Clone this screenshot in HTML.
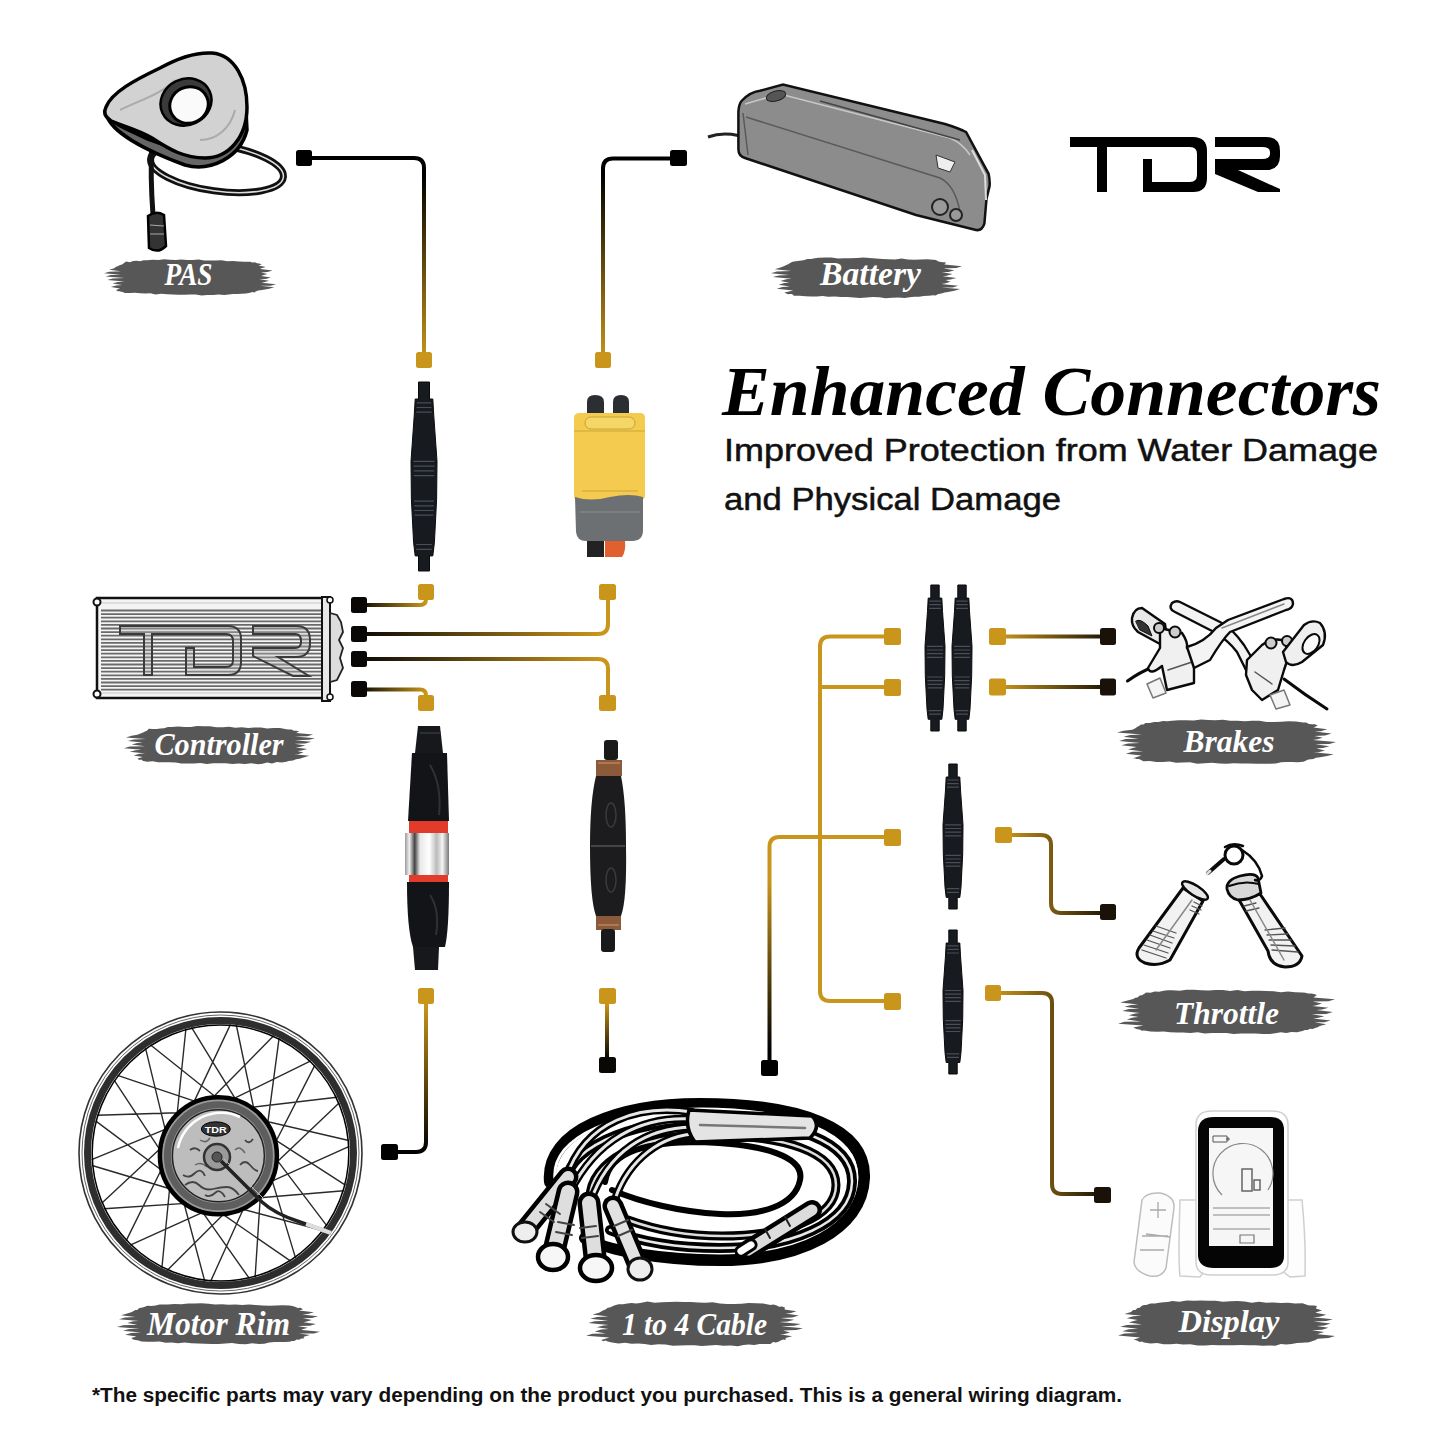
<!DOCTYPE html>
<html><head><meta charset="utf-8"><style>
html,body{margin:0;padding:0;background:#fff;width:1445px;height:1445px;overflow:hidden}
svg{display:block}
</style></head><body>
<svg width="1445" height="1445" viewBox="0 0 1445 1445">
<defs><linearGradient id="g1" gradientUnits="userSpaceOnUse" x1="0" y1="175" x2="0" y2="360"><stop offset="0" stop-color="#000"/><stop offset="1" stop-color="#C9961B"/></linearGradient><linearGradient id="g2" gradientUnits="userSpaceOnUse" x1="0" y1="175" x2="0" y2="360"><stop offset="0" stop-color="#000"/><stop offset="1" stop-color="#C9961B"/></linearGradient><linearGradient id="g3" gradientUnits="userSpaceOnUse" x1="360" y1="0" x2="426" y2="0"><stop offset="0" stop-color="#0a0806"/><stop offset="1" stop-color="#C9961B"/></linearGradient><linearGradient id="g4" gradientUnits="userSpaceOnUse" x1="360" y1="0" x2="600" y2="0"><stop offset="0" stop-color="#0a0806"/><stop offset="1" stop-color="#C9961B"/></linearGradient><linearGradient id="g5" gradientUnits="userSpaceOnUse" x1="360" y1="0" x2="600" y2="0"><stop offset="0" stop-color="#0a0806"/><stop offset="1" stop-color="#C9961B"/></linearGradient><linearGradient id="g6" gradientUnits="userSpaceOnUse" x1="360" y1="0" x2="426" y2="0"><stop offset="0" stop-color="#0a0806"/><stop offset="1" stop-color="#C9961B"/></linearGradient><linearGradient id="g7" gradientUnits="userSpaceOnUse" x1="0" y1="1004" x2="0" y2="1152"><stop offset="0" stop-color="#C9961B"/><stop offset="1" stop-color="#000"/></linearGradient><linearGradient id="g8" gradientUnits="userSpaceOnUse" x1="0" y1="1004" x2="0" y2="1060"><stop offset="0" stop-color="#C9961B"/><stop offset="1" stop-color="#000"/></linearGradient><linearGradient id="g9" gradientUnits="userSpaceOnUse" x1="0" y1="880" x2="0" y2="1050"><stop offset="0" stop-color="#C9961B"/><stop offset="1" stop-color="#000"/></linearGradient><linearGradient id="g10" gradientUnits="userSpaceOnUse" x1="1000" y1="0" x2="1108" y2="0"><stop offset="0" stop-color="#C9961B"/><stop offset="1" stop-color="#1a1208"/></linearGradient><linearGradient id="g11" gradientUnits="userSpaceOnUse" x1="1000" y1="0" x2="1108" y2="0"><stop offset="0" stop-color="#C9961B"/><stop offset="1" stop-color="#1a1208"/></linearGradient><linearGradient id="g12" gradientUnits="userSpaceOnUse" x1="1005" y1="0" x2="1108" y2="0"><stop offset="0" stop-color="#C9961B"/><stop offset="1" stop-color="#1a1208"/></linearGradient><linearGradient id="g13" gradientUnits="userSpaceOnUse" x1="995" y1="0" x2="1102" y2="0"><stop offset="0" stop-color="#C9961B"/><stop offset="1" stop-color="#1a1208"/></linearGradient></defs>
<rect width="1445" height="1445" fill="#fff"/>
<g id="battery">
<path d="M708,137 Q722,132 738,135.5" fill="none" stroke="#222" stroke-width="3"/>
<path d="M741.5,101 Q750,92 760,90.8 L783,84.5 L945,124 Q958,128 966,132 L988.6,173.8 Q990,180 989.6,186 L986.5,198.7 L984.4,223.6 Q982,231 976,230 L916,215 L745,158 Q738.4,156 738.4,149 L738.4,111.5 Q739,104 741.5,101 Z" fill="#8c8c8c" stroke="#111" stroke-width="2.5"/>
<path d="M745,104 L780,94 L950,138 Q962,143 970,155" fill="none" stroke="#c8c8c8" stroke-width="1.5"/>
<path d="M743,113 L748,155 M746,117 L940,178 Q955,185 960,212" fill="none" stroke="#5a5a5a" stroke-width="1.5"/>
<path d="M820,101 L960,140" fill="none" stroke="#444" stroke-width="1.5"/>
<ellipse cx="776" cy="96" rx="10" ry="5" transform="rotate(-15 776 96)" fill="#555" stroke="#222" stroke-width="1"/>
<path d="M936,155 L955,162 L950,172 L938,168 Z" fill="#eee" stroke="#333" stroke-width="1"/>
<circle cx="940" cy="207" r="8" fill="#999" stroke="#222" stroke-width="2"/>
<circle cx="956" cy="215" r="6" fill="#999" stroke="#222" stroke-width="2"/>
<path d="M972,150 L985,175 L986,200" fill="none" stroke="#ddd" stroke-width="2"/>
</g>

<g id="brakes" stroke="#0a0a0a" stroke-width="2.4" stroke-linejoin="round" stroke-linecap="round">
<!-- cables -->
<path d="M1127.5,681 Q1140,672 1153,667" fill="none" stroke-width="3"/>
<path d="M1284,679 Q1305,695 1327,709" fill="none" stroke-width="3"/>
<!-- blade B (top-left hook to right body) -->
<path d="M1172,603 Q1168,609 1175,612 L1214,632 Q1228,640 1237,652 L1248,674 L1258,668 L1244,645 Q1232,628 1220,622 L1180,602 Q1176,600 1172,603 Z" fill="#f2f2f2"/>
<!-- left clamp -->
<path d="M1132,618 Q1134,608 1142,608 L1165,624 Q1168,640 1160,644 L1138,632 Q1131,626 1132,618 Z" fill="#e8e8e8"/>
<path d="M1136,621 Q1140,618 1148,626 L1152,636 L1140,630 Z" fill="#333" stroke-width="1"/>
<!-- left body -->
<path d="M1160,628 L1182,633 Q1188,642 1187,648 Q1196,650 1208,640 L1194,668 L1194,683 L1167,690 L1162,666 Q1150,676 1148,668 L1160,648 Z" fill="#f0f0f0"/>
<path d="M1168,670 L1192,662" fill="none" stroke="#555" stroke-width="1.5"/>
<circle cx="1159" cy="628" r="5" fill="#ccc" stroke-width="2"/>
<circle cx="1175" cy="632" r="5.5" fill="#ccc" stroke-width="2"/>
<!-- blade A (left body to top right hook) -->
<path d="M1187,647 Q1205,642 1216,628 L1228,620 L1284,599 Q1293,596 1293,604 Q1292,609 1286,610 L1230,632 Q1222,640 1210,660 L1194,668 Z" fill="#f4f4f4"/>
<path d="M1222,628 L1284,604" fill="none" stroke="#888" stroke-width="1.5"/>
<!-- left barrel -->
<path d="M1147,684 L1160,678 L1166,693 L1153,698 Z" fill="#f4f4f4" stroke="#777" stroke-width="1.5"/>
<!-- right body -->
<path d="M1247,660 L1262,645 Q1270,638 1282,640 L1290,652 L1284,670 L1278,690 L1262,700 L1252,690 L1246,675 Z" fill="#f0f0f0"/>
<path d="M1255,672 L1272,684" fill="none" stroke="#555" stroke-width="1.5"/>
<circle cx="1271" cy="643" r="5.5" fill="#ccc" stroke-width="2"/>
<circle cx="1287" cy="641" r="5" fill="#ccc" stroke-width="2"/>
<!-- right clamp -->
<path d="M1283,652 L1304,625 Q1312,619 1320,623 Q1328,632 1323,645 L1302,662 Q1292,668 1286,662 Z" fill="#efefef"/>
<ellipse cx="1311" cy="644" rx="7" ry="11" transform="rotate(35 1311 644)" fill="#fafafa" stroke-width="2"/>
<!-- right barrel -->
<path d="M1270,695 L1284,690 L1290,705 L1276,709 Z" fill="#f4f4f4" stroke="#777" stroke-width="1.5"/>
</g>

<g id="cable" stroke-linecap="round" fill="none">
<!-- outer loops -->
<path d="M550,1182 C545,1130 620,1104 700,1104 C800,1104 866,1128 864,1178 C862,1230 800,1260 720,1260 C660,1260 610,1250 585,1238" stroke="#000" stroke-width="12"/>
<path d="M555,1180 C550,1135 620,1110 700,1109 C795,1109 857,1133 857,1178 C855,1224 800,1253 720,1253 C665,1253 615,1245 592,1234" stroke="#fff" stroke-width="3"/>
<path d="M566,1190 C560,1150 630,1120 705,1120 C795,1120 853,1142 852,1182 C851,1224 790,1248 720,1248 C670,1248 635,1240 610,1230" stroke="#000" stroke-width="10"/>
<path d="M566,1190 C560,1150 630,1120 705,1120 C795,1120 853,1142 852,1182 C851,1224 790,1248 720,1248 C670,1248 635,1240 610,1230" stroke="#e8e8e8" stroke-width="2.5"/>
<path d="M590,1198 C590,1162 640,1135 705,1135 C785,1135 836,1152 836,1185 C836,1218 785,1236 722,1236 C680,1236 650,1228 628,1220" stroke="#000" stroke-width="9"/>
<path d="M590,1198 C590,1162 640,1135 705,1135 C785,1135 836,1152 836,1185 C836,1218 785,1236 722,1236 C680,1236 650,1228 628,1220" stroke="#ddd" stroke-width="2.5"/>
<!-- hole edge -->
<path d="M605,1182 C610,1150 650,1142 700,1142 C765,1144 805,1157 800,1180 C795,1206 760,1216 720,1214 C680,1212 640,1202 612,1190" stroke="#000" stroke-width="6"/>
<!-- splitter -->
<path d="M692,1112 C640,1104 585,1120 566,1178 M692,1119 C640,1116 596,1140 570,1192 M692,1127 C648,1128 608,1150 590,1203 M692,1134 C655,1138 624,1165 613,1206" stroke="#000" stroke-width="8"/>
<path d="M692,1112 C640,1104 585,1120 566,1178 M692,1119 C640,1116 596,1140 570,1192 M692,1127 C648,1128 608,1150 590,1203 M692,1134 C655,1138 624,1165 613,1206" stroke="#e6e6e6" stroke-width="3"/>

<path d="M689,1110 L812,1116 Q822,1126 810,1138 L695,1142 Q684,1128 689,1110 Z" fill="#e4e4e4" stroke="#000" stroke-width="3.5"/>
<path d="M700,1125 L805,1128" stroke="#777" stroke-width="2.5"/>
<!-- four connector bodies -->
<path d="M525,1230 L568,1177" stroke="#000" stroke-width="21"/>
<path d="M525,1230 L568,1177" stroke="#dedede" stroke-width="12"/>
<path d="M553,1255 L568,1192" stroke="#000" stroke-width="23"/>
<path d="M553,1255 L568,1192" stroke="#dedede" stroke-width="14"/>
<path d="M596,1266 L589,1203" stroke="#000" stroke-width="23"/>
<path d="M596,1266 L589,1203" stroke="#dedede" stroke-width="14"/>
<path d="M639,1268 L613,1206" stroke="#000" stroke-width="21"/>
<path d="M639,1268 L613,1206" stroke="#e2e2e2" stroke-width="12"/>
<path d="M540,1212 l14,10 M546,1204 l14,10 M556,1232 l16,3 M558,1222 l16,3 M582,1238 l16,-2 M580,1228 l16,-2 M618,1236 l14,-6 M614,1226 l14,-6" stroke="#444" stroke-width="2"/>
<!-- tips -->
<ellipse cx="525" cy="1232" rx="12" ry="10" fill="#eee" stroke="#111" stroke-width="3"/>
<ellipse cx="553" cy="1257" rx="15" ry="13" fill="#f7f7f7" stroke="#000" stroke-width="4.5"/>
<ellipse cx="596" cy="1268" rx="16" ry="13" fill="#f7f7f7" stroke="#000" stroke-width="4.5"/>
<ellipse cx="640" cy="1269" rx="12" ry="11" fill="#eee" stroke="#111" stroke-width="3"/>
<!-- right plug -->
<path d="M748,1250 L812,1210" stroke="#000" stroke-width="20"/>
<path d="M748,1250 L812,1210" stroke="#dcdcdc" stroke-width="11"/>
<path d="M770,1238 l-5,-9 M790,1226 l-5,-9" stroke="#222" stroke-width="2"/>
<rect x="735" y="1243" width="22" height="10" rx="5" transform="rotate(-32 746 1248)" fill="#fff" stroke="#000" stroke-width="3"/>
</g>

<g id="controller">
<rect x="97" y="598" width="229" height="100" fill="#f4f4f4" stroke="#111" stroke-width="2.5"/>
<path d="M101,610.5H322M101,614.1H322M101,617.7H322M101,621.3H322M101,624.9H322M101,628.5H322M101,632.1H322M101,635.7H322M101,639.3H322M101,642.9H322M101,646.5H322M101,650.1H322M101,653.7H322M101,657.3H322M101,660.9H322M101,664.5H322M101,668.1H322M101,671.7H322M101,675.3H322M101,678.9H322M101,682.5H322M101,686.1H322M101,689.7H322" stroke="#6a6a6a" stroke-width="1.8" fill="none"/>
<path d="M100,603H322M100,693H322" stroke="#c8c8c8" stroke-width="1" fill="none"/>
<circle cx="97" cy="602" r="3.5" fill="#fff" stroke="#111" stroke-width="2"/>
<circle cx="97" cy="694" r="3.5" fill="#fff" stroke="#111" stroke-width="2"/>
<rect x="322" y="597" width="8" height="104" fill="#e8e8e8" stroke="#111" stroke-width="2"/>
<path d="M330,613 L337,615 L341,622 L343,632 L339,640 L343,648 L340,658 L343,668 L337,680 L330,682 Z" fill="#ddd" stroke="#222" stroke-width="1.8"/>
<circle cx="330" cy="600" r="3" fill="#fff" stroke="#111" stroke-width="1.5"/><circle cx="330" cy="697" r="3" fill="#fff" stroke="#111" stroke-width="1.5"/>
<path d="M120,626 H228 Q241,626 241,639 V662 Q241,675 228,675 H186 V648 H194 V667 H226 Q233,667 233,660 V641 Q233,634 226,634 H152 V675 H144 V634 H120 Z" fill="#b5b5b5" fill-opacity="0.35" stroke="#3a3a3a" stroke-width="2"/>
<path d="M253,626 H296 Q310,626 310,640 V643 Q310,657 296,657 H278 L309,676 H293 L253,656 V648 H295 Q301,648 301,642 V641 Q301,634 295,634 H253 Z" fill="#b5b5b5" fill-opacity="0.35" stroke="#3a3a3a" stroke-width="2"/>
</g>
<g id="display">
<!-- stand -->
<path d="M1180,1200 Q1178,1260 1180,1276 L1200,1277 L1208,1266 L1276,1266 L1290,1277 L1305,1276 Q1306,1240 1302,1200 Z" fill="#fdfdfd" stroke="#cfcfcf" stroke-width="1.5"/>
<!-- casing -->
<path d="M1196,1125 Q1196,1111 1212,1111 H1272 Q1288,1111 1288,1125 V1262 Q1288,1275 1272,1275 H1212 Q1196,1275 1196,1262 Z" fill="#fff" stroke="#d0d0d0" stroke-width="1.5"/>
<!-- black frame -->
<path d="M1198,1130 Q1199,1117 1214,1117 H1270 Q1284,1117 1284,1130 V1256 Q1284,1268 1270,1268 H1214 Q1199,1268 1198,1256 Z" fill="#050505"/>
<rect x="1209" y="1128" width="64" height="118" fill="#f6f6f6"/>
<!-- lcd details -->
<path d="M1213,1136 h14 v6 h-14 z M1227,1138 h2 v2 h-2 z" fill="none" stroke="#555" stroke-width="1"/>
<path d="M1222,1195 A30,30 0 1 1 1268,1190" fill="none" stroke="#888" stroke-width="1.2"/>
<path d="M1242,1169 h10 v22 h-10 z M1254,1180 h6 v10 h-6 z" fill="none" stroke="#666" stroke-width="1.5"/>
<path d="M1213,1208 H1270 M1213,1215 H1270 M1213,1229 H1270" fill="none" stroke="#888" stroke-width="1.2"/>
<path d="M1240,1235 h14 v8 h-14 z" fill="none" stroke="#777" stroke-width="1.2"/>
<!-- remote -->
<path d="M1142,1200 Q1146,1192 1160,1193 Q1175,1196 1174,1208 L1166,1268 Q1162,1278 1150,1276 Q1135,1272 1134,1262 Z" fill="#fbfbfb" stroke="#bdbdbd" stroke-width="1.5"/>
<path d="M1150,1210 h16 M1158,1202 v16 M1142,1236 h26 M1140,1250 h24 M1146,1234 l24 3" fill="none" stroke="#aaa" stroke-width="1.3"/>
</g>

<g id="pas">
<ellipse cx="217" cy="168" rx="67" ry="23" transform="rotate(8 217 168)" fill="none" stroke="#111" stroke-width="7"/>
<ellipse cx="217" cy="168" rx="67" ry="23" transform="rotate(8 217 168)" fill="none" stroke="#ddd" stroke-width="1.5"/>
<path d="M152,142 Q150,175 153,215" fill="none" stroke="#111" stroke-width="5"/>
<path d="M148,216 Q156,210 164,215 L166,246 Q158,254 149,248 Z" fill="#333" stroke="#000" stroke-width="2.5"/>
<path d="M150,225 L164,226 M150,234 L164,234" stroke="#aaa" stroke-width="1"/>
<path d="M106,112 C108,132 150,152 185,165 C210,172 240,158 247,130 L246,110 C235,140 200,160 150,140 C130,130 110,124 106,112 Z" fill="#666" stroke="#000" stroke-width="3.5"/>
<path d="M106,107 C112,92 135,80 160,68 C178,58 195,52 212,53 C235,55 247,80 247,107 C247,138 228,158 205,158 C185,158 170,150 152,138 C135,128 115,124 110,120 C104,116 104,111 106,107 Z" fill="#d2d2d2" stroke="#000" stroke-width="3.5"/>
<path d="M120,110 C140,100 160,95 175,80 M200,140 C215,140 230,130 235,110" fill="none" stroke="#aaa" stroke-width="2"/>
<ellipse cx="186" cy="102" rx="26" ry="23" transform="rotate(-25 186 102)" fill="#3a3a3a" stroke="#000" stroke-width="2.5"/>
<ellipse cx="189" cy="105" rx="19.5" ry="18" transform="rotate(-25 189 105)" fill="#fafafa" stroke="#000" stroke-width="3"/>
</g>

<defs><linearGradient id="silver" x1="0" x2="1" y1="0" y2="0"><stop offset="0" stop-color="#9a9a9a"/><stop offset="0.1" stop-color="#f0f0f0"/><stop offset="0.22" stop-color="#444"/><stop offset="0.34" stop-color="#e8e8e8"/><stop offset="0.55" stop-color="#ffffff"/><stop offset="0.72" stop-color="#bbb"/><stop offset="0.85" stop-color="#f4f4f4"/><stop offset="1" stop-color="#777"/></linearGradient></defs>
<g id="slimconns">
<path d="M418.5,382.0 L418.5,399.0 L415.2,399.0 L414.2,416.0 L411.0,461.4 L411.4,499.2 L413.6,542.6 L415.2,555.9 L418.5,555.9 L418.5,571.0 L429.5,571.0 L429.5,555.9 L432.8,555.9 L434.4,542.6 L436.6,499.2 L437.0,461.4 L433.8,416.0 L432.8,399.0 L429.5,399.0 L429.5,382.0Z" fill="#171a1f" stroke="#0a0b0d" stroke-width="1" stroke-linejoin="round"/><path d="M416.8,402.8H431.2M416.6,407.5H431.4M416.4,412.2H431.6M413.6,461.4H434.4M413.6,466.1H434.4M413.7,470.8H434.3M413.7,475.6H434.3M414.0,501.1H434.0M414.2,505.8H433.8M414.4,510.5H433.6M414.6,515.2H433.4M415.9,544.5H432.1M416.3,549.3H431.7" stroke="#4a4f57" stroke-width="1.2" fill="none"/>
<path d="M930.8,585.0 L930.8,598.1 L928.2,598.1 L927.5,611.3 L925.0,646.3 L925.3,675.5 L927.0,709.1 L928.2,719.3 L930.8,719.3 L930.8,731.0 L939.2,731.0 L939.2,719.3 L941.8,719.3 L943.0,709.1 L944.7,675.5 L945.0,646.3 L942.5,611.3 L941.8,598.1 L939.2,598.1 L939.2,585.0Z" fill="#171a1f" stroke="#0a0b0d" stroke-width="1" stroke-linejoin="round"/><path d="M929.4,601.1H940.6M929.3,604.7H940.7M929.1,608.4H940.9M927.0,646.3H943.0M927.0,650.0H943.0M927.1,653.6H942.9M927.1,657.3H942.9M927.3,677.0H942.7M927.4,680.6H942.6M927.6,684.3H942.4M927.7,687.9H942.3M928.7,710.6H941.3M929.1,714.2H940.9" stroke="#4a4f57" stroke-width="1.2" fill="none"/>
<path d="M957.8,585.0 L957.8,598.1 L955.2,598.1 L954.5,611.3 L952.0,646.3 L952.3,675.5 L954.0,709.1 L955.2,719.3 L957.8,719.3 L957.8,731.0 L966.2,731.0 L966.2,719.3 L968.8,719.3 L970.0,709.1 L971.7,675.5 L972.0,646.3 L969.5,611.3 L968.8,598.1 L966.2,598.1 L966.2,585.0Z" fill="#171a1f" stroke="#0a0b0d" stroke-width="1" stroke-linejoin="round"/><path d="M956.4,601.1H967.6M956.3,604.7H967.7M956.1,608.4H967.9M954.0,646.3H970.0M954.0,650.0H970.0M954.1,653.6H969.9M954.1,657.3H969.9M954.3,677.0H969.7M954.4,680.6H969.6M954.6,684.3H969.4M954.7,687.9H969.3M955.7,710.6H968.3M956.1,714.2H967.9" stroke="#4a4f57" stroke-width="1.2" fill="none"/>
<path d="M948.8,764.0 L948.8,777.0 L946.2,777.0 L945.5,790.1 L943.0,824.9 L943.3,853.9 L945.0,887.2 L946.2,897.4 L948.8,897.4 L948.8,909.0 L957.2,909.0 L957.2,897.4 L959.8,897.4 L961.0,887.2 L962.7,853.9 L963.0,824.9 L960.5,790.1 L959.8,777.0 L957.2,777.0 L957.2,764.0Z" fill="#171a1f" stroke="#0a0b0d" stroke-width="1" stroke-linejoin="round"/><path d="M947.4,780.0H958.6M947.3,783.6H958.7M947.1,787.2H958.9M945.0,824.9H961.0M945.0,828.5H961.0M945.1,832.1H960.9M945.1,835.8H960.9M945.3,855.4H960.7M945.4,859.0H960.6M945.6,862.6H960.4M945.7,866.2H960.3M946.7,888.7H959.3M947.1,892.3H958.9" stroke="#4a4f57" stroke-width="1.2" fill="none"/>
<path d="M948.8,930.0 L948.8,943.0 L946.2,943.0 L945.5,955.9 L943.0,990.5 L943.3,1019.3 L945.0,1052.4 L946.2,1062.5 L948.8,1062.5 L948.8,1074.0 L957.2,1074.0 L957.2,1062.5 L959.8,1062.5 L961.0,1052.4 L962.7,1019.3 L963.0,990.5 L960.5,955.9 L959.8,943.0 L957.2,943.0 L957.2,930.0Z" fill="#171a1f" stroke="#0a0b0d" stroke-width="1" stroke-linejoin="round"/><path d="M947.4,945.8H958.6M947.3,949.4H958.7M947.1,953.0H958.9M945.0,990.5H961.0M945.0,994.1H961.0M945.1,997.7H960.9M945.1,1001.3H960.9M945.3,1020.7H960.7M945.4,1024.3H960.6M945.6,1027.9H960.4M945.7,1031.5H960.3M946.7,1053.8H959.3M947.1,1057.4H958.9" stroke="#4a4f57" stroke-width="1.2" fill="none"/>
</g>
<g id="xt60">
<path d="M587,415 V402 Q587,395 595,395 Q604,395 604,402 V415 Z" fill="#2b2e33"/>
<path d="M613,415 V402 Q613,395 621,395 Q629,395 629,402 V415 Z" fill="#2b2e33"/>
<path d="M587,540 H604 V557 H587 Z" fill="#222"/>
<path d="M605,540 H625 Q626,552 622,557 H605 Z" fill="#e0602f"/>
<path d="M574,418 Q574,413 580,413 H640 Q645,413 645,418 V496 Q645,500 640,500 H579 Q574,500 574,496 Z" fill="#f4cb4e"/>
<path d="M574,431 H645" stroke="#d9b440" stroke-width="1.5"/>
<rect x="585" y="417" width="50" height="12" rx="6" fill="#f5d768" stroke="#c9a235" stroke-width="1"/>
<path d="M582,491 H638" stroke="#c9a235" stroke-width="1.2"/>
<path d="M575,497 Q590,502 610,497 Q630,493 643,497 V530 Q643,541 632,541 H586 Q577,541 576,532 Z" fill="#6d7072"/>
<path d="M580,512 H640" stroke="#7d8082" stroke-width="2"/>
</g>
<g id="motorconn">
<path d="M418,726 H440 L443,753 H415 Z" fill="#16181b"/>
<path d="M420,733 H441" stroke="#34373c" stroke-width="1.5"/>
<path d="M412,753 H447 L449,821 H408 Z" fill="#121417"/>
<path d="M430,765 Q442,785 439,815" stroke="#2e3136" stroke-width="2" fill="none"/>
<rect x="409" y="821" width="39" height="12" fill="#e23b2c"/>
<rect x="405" y="833" width="44" height="42" fill="url(#silver)"/>
<rect x="409" y="875" width="39" height="7" fill="#e23b2c"/>
<path d="M407,882 H449 Q449,930 445,947 H413 Q407,930 407,882 Z" fill="#121417"/>
<path d="M430,895 Q440,910 436,935" stroke="#2e3136" stroke-width="2" fill="none"/>
<path d="M413,947 H439 L438,970 H415 Z" fill="#16181b"/>
</g>
<g id="hconn">
<rect x="604" y="740" width="14" height="20" rx="3" fill="#1a1a1a"/>
<path d="M596,760 H622 V776 H596 Z" fill="#8a5a3a"/>
<path d="M598,763 H620" stroke="#b07850" stroke-width="2"/>
<path d="M596,776 Q590,800 590,846 Q590,900 596,916 H621 Q627,900 626,846 Q626,800 621,776 Z" fill="#1c1c1e"/>
<path d="M591,846 H625" stroke="#444" stroke-width="2"/>
<ellipse cx="611" cy="815" rx="5" ry="12" fill="none" stroke="#3a3a3c" stroke-width="1.5"/>
<ellipse cx="611" cy="880" rx="5" ry="12" fill="none" stroke="#3a3a3c" stroke-width="1.5"/>
<path d="M596,916 H621 V930 H596 Z" fill="#8a5a3a"/>
<path d="M598,925 H619" stroke="#b07850" stroke-width="2"/>
<rect x="601" y="929" width="14" height="23" rx="3" fill="#1a1a1a"/>
</g>
<g id="throttle" stroke="#0a0a0a" stroke-linejoin="round" stroke-linecap="round">
<!-- left grip -->
<path d="M1183,888 L1139,948 Q1133,958 1145,963 Q1158,967 1170,960 L1203,901 Z" fill="#f2f2f2" stroke-width="3"/>
<ellipse cx="1195" cy="890.5" rx="15" ry="5" transform="rotate(33 1195 890.5)" fill="#e6e6e6" stroke-width="2.5"/>
<path d="M1142,950 L1166,958 M1144,945 L1168,953 M1147,940 L1170,948 M1150,935 L1172,943 M1153,931 L1174,938 M1156,926 L1176,933 M1190,910 L1199,914 M1192,906 L1201,910 M1194,902 L1202,906" fill="none" stroke="#555" stroke-width="1.3"/>
<path d="M1192,900 L1156,950" fill="none" stroke="#888" stroke-width="1.5"/>
<!-- right grip -->
<path d="M1238,898 L1268,951 Q1270,966 1285,967 Q1300,967 1302,956 L1260,894 Z" fill="#f2f2f2" stroke-width="3"/>
<path d="M1227,889 Q1226,880 1240,876 Q1255,872 1258,878 L1261,893 Q1250,900 1238,900 Q1229,898 1227,889 Z" fill="#d8d8d8" stroke-width="2.8"/>
<path d="M1229,886 Q1244,880 1259,884" fill="none" stroke-width="2"/>
<path d="M1272,950 L1298,952 M1271,945 L1295,946 M1269,940 L1291,940 M1267,935 L1288,934 M1265,930 L1285,928 M1244,906 L1256,903 M1246,911 L1259,908" fill="none" stroke="#555" stroke-width="1.3"/>
<path d="M1250,900 L1284,960" fill="none" stroke="#888" stroke-width="1.5"/>
<!-- ring & cables -->
<circle cx="1234" cy="855" r="9" fill="none" stroke-width="3"/>
<path d="M1208,873 L1224,859" fill="none" stroke-width="4"/>
<path d="M1207,874 L1210,871" fill="none" stroke="#ddd" stroke-width="3"/>
<path d="M1225,847 Q1233,842 1243,846" fill="none" stroke-width="2.5"/>
<path d="M1242,850 Q1258,860 1262,876 Q1260,882 1255,880" fill="none" stroke-width="2.5"/>
</g>

<g id="wheel">
<path d="M267.5,1165.1L295.5,1257.9M268.4,1156.2L314.9,1065.1M261.3,1181.4L255.1,1277.3M265.2,1173.3L339.3,1102.7M249.9,1194.5L210.5,1281.6M256.4,1188.2L349.3,1146.3M234.8,1202.9L167.1,1270.4M243.0,1199.2L343.8,1190.8M217.6,1205.7L130.2,1245.1M226.6,1205.0L323.5,1230.7M200.6,1202.4L104.1,1208.7M209.2,1204.9L290.7,1261.2M185.7,1193.5L92.1,1165.5M193.0,1198.7L249.5,1278.7M174.7,1180.0L95.6,1120.9M179.8,1187.5L204.7,1281.0M169.0,1163.6L114.1,1080.1M171.2,1172.3L161.9,1267.9M169.3,1146.3L145.5,1048.1M168.4,1155.2L126.1,1240.9M175.5,1130.0L185.9,1028.7M171.6,1138.1L101.7,1203.3M186.9,1116.9L230.5,1024.4M180.4,1123.2L91.7,1159.7M202.0,1108.5L273.9,1035.6M193.8,1112.2L97.2,1115.2M219.2,1105.7L310.8,1060.9M210.2,1106.4L117.5,1075.3M236.2,1109.0L336.9,1097.3M227.6,1106.5L150.3,1044.8M251.1,1117.9L348.9,1140.5M243.8,1112.7L191.5,1027.3M262.1,1131.4L345.4,1185.1M257.0,1123.9L236.3,1025.0M267.8,1147.8L326.9,1225.9M265.6,1139.1L279.1,1038.1" stroke="#2a2a2a" stroke-width="1.4" fill="none"/>
<ellipse cx="220.5" cy="1153" rx="141.5" ry="141" fill="none" stroke="#333" stroke-width="1.6"/>
<ellipse cx="220.5" cy="1153" rx="138.5" ry="138" fill="none" stroke="#666" stroke-width="1"/>
<ellipse cx="220.5" cy="1153" rx="133" ry="132.5" fill="none" stroke="#2e2e2e" stroke-width="7"/>
<ellipse cx="220.5" cy="1153" rx="128.3" ry="128" fill="none" stroke="#000" stroke-width="1.5"/>
<circle cx="218.4" cy="1155.7" r="58.5" fill="#999" stroke="#000" stroke-width="4.5"/>
<circle cx="218.4" cy="1155.7" r="51" fill="none" stroke="#5e5e5e" stroke-width="7"/>
<circle cx="218.4" cy="1155.7" r="46" fill="#bdbdbd" stroke="#222" stroke-width="1.5"/>
<path d="M178,1148 A44,44 0 0 1 240,1117" fill="none" stroke="#fff" stroke-width="2.5"/>
<path d="M185,1185 q8,-6 14,0 t14,4 t14,-2 t12,8 M183,1175 q6,4 12,-2 t10,3 M240,1165 q5,-6 10,0 t8,6 M190,1150 q5,-4 10,1 M245,1140 q4,5 8,-1 M205,1195 q5,3 10,-2 t10,4" fill="none" stroke="#444" stroke-width="1.8"/>
<path d="M195,1165 q6,-4 12,2 M235,1150 q5,-5 10,3 M200,1140 q6,4 10,-2" fill="none" stroke="#666" stroke-width="1.5"/>
<circle cx="217" cy="1157" r="13" fill="#9a9a9a" stroke="#333" stroke-width="2.5"/>
<circle cx="217" cy="1157" r="5" fill="#555" stroke="#222" stroke-width="1"/>
<ellipse cx="215.8" cy="1129" rx="14.5" ry="7.2" fill="#333" stroke="#000" stroke-width="1"/>
<text x="215.8" y="1132.5" text-anchor="middle" font-family="Liberation Sans" font-weight="bold" font-size="9" fill="#fff" textLength="22" lengthAdjust="spacingAndGlyphs">TDR</text>
<path d="M221,1161 L262,1202 Q275,1214 300,1222 L331,1233" fill="none" stroke="#222" stroke-width="3.5"/>
<path d="M224,1159 L264,1199" fill="none" stroke="#bbb" stroke-width="1"/>
<path d="M306,1224 L331,1233" fill="none" stroke="#ddd" stroke-width="4"/>
</g>
<path d="M312,158 H414 Q424,158 424,168 V360" fill="none" stroke="url(#g1)" stroke-width="4" stroke-linejoin="round"/>
<rect x="296" y="150" width="16" height="16" rx="2.5" fill="#000"/>
<rect x="416" y="352" width="16" height="16" rx="2.5" fill="#C9961B"/>
<path d="M672,158.5 H613 Q603,158.5 603,168.5 V360" fill="none" stroke="url(#g2)" stroke-width="4" stroke-linejoin="round"/>
<rect x="670" y="150" width="17" height="16" rx="2.5" fill="#000"/>
<rect x="595" y="352" width="16" height="16" rx="2.5" fill="#C9961B"/>
<path d="M365,605 H420 Q426,605 426,599 V592" fill="none" stroke="url(#g3)" stroke-width="4" stroke-linejoin="round"/>
<rect x="351" y="597" width="16" height="16" rx="2.5" fill="#0a0806"/>
<rect x="418" y="584" width="16" height="16" rx="2.5" fill="#C9961B"/>
<path d="M365,634 H598 Q608,634 608,624 V592" fill="none" stroke="url(#g4)" stroke-width="4" stroke-linejoin="round"/>
<rect x="351" y="626" width="16" height="16" rx="2.5" fill="#0a0806"/>
<rect x="599" y="584" width="17" height="16" rx="2.5" fill="#C9961B"/>
<path d="M365,659 H598 Q608,659 608,669 V703" fill="none" stroke="url(#g5)" stroke-width="4" stroke-linejoin="round"/>
<rect x="351" y="651" width="16" height="16" rx="2.5" fill="#0a0806"/>
<rect x="599" y="695" width="17" height="16" rx="2.5" fill="#C9961B"/>
<path d="M365,689.5 H420 Q426,689.5 426,695.5 V703" fill="none" stroke="url(#g6)" stroke-width="4" stroke-linejoin="round"/>
<rect x="351" y="681" width="16" height="16" rx="2.5" fill="#0a0806"/>
<rect x="418" y="695" width="16" height="16" rx="2.5" fill="#C9961B"/>
<path d="M426,996 V1142 Q426,1152 416,1152 H390" fill="none" stroke="url(#g7)" stroke-width="4" stroke-linejoin="round"/>
<rect x="418" y="988" width="16" height="16" rx="2.5" fill="#C9961B"/>
<rect x="381" y="1144" width="17" height="16" rx="2.5" fill="#000"/>
<path d="M607,996 V1065" fill="none" stroke="url(#g8)" stroke-width="4" stroke-linejoin="round"/>
<rect x="599" y="988" width="17" height="16" rx="2.5" fill="#C9961B"/>
<rect x="599" y="1057" width="17" height="16" rx="2.5" fill="#0a0806"/>
<path d="M886,636.5 H830 Q820,636.5 820,646.5 V991 Q820,1001 830,1001 H886" fill="none" stroke="#C9961B" stroke-width="4" stroke-linejoin="round"/>
<path d="M820,687 H886" fill="none" stroke="#C9961B" stroke-width="4" stroke-linejoin="round"/>
<path d="M820,837 H886" fill="none" stroke="#C9961B" stroke-width="4" stroke-linejoin="round"/>
<rect x="884" y="628" width="17" height="17" rx="2.5" fill="#C9961B"/>
<rect x="884" y="679" width="17" height="17" rx="2.5" fill="#C9961B"/>
<rect x="884" y="829" width="17" height="17" rx="2.5" fill="#C9961B"/>
<rect x="884" y="993" width="17" height="17" rx="2.5" fill="#C9961B"/>
<path d="M820,837 H779.5 Q769.5,837 769.5,847 V1068" fill="none" stroke="url(#g9)" stroke-width="4" stroke-linejoin="round"/>
<rect x="761" y="1060" width="17" height="16" rx="2.5" fill="#000"/>
<path d="M1000,636.5 H1108" fill="none" stroke="url(#g10)" stroke-width="4" stroke-linejoin="round"/>
<rect x="989" y="628.0" width="17" height="17" rx="2.5" fill="#C9961B"/>
<rect x="1100" y="628.0" width="16" height="17" rx="2.5" fill="#1a1208"/>
<path d="M1000,687 H1108" fill="none" stroke="url(#g11)" stroke-width="4" stroke-linejoin="round"/>
<rect x="989" y="678.5" width="17" height="17" rx="2.5" fill="#C9961B"/>
<rect x="1100" y="678.5" width="16" height="17" rx="2.5" fill="#1a1208"/>
<path d="M1005,835 H1041 Q1051,835 1051,845 V903 Q1051,913 1061,913 H1108" fill="none" stroke="url(#g12)" stroke-width="4" stroke-linejoin="round"/>
<rect x="995" y="827" width="17" height="16" rx="2.5" fill="#C9961B"/>
<rect x="1100" y="904" width="16" height="16" rx="2.5" fill="#1a1208"/>
<path d="M995,993 H1042 Q1052,993 1052,1003 V1184 Q1052,1194 1062,1194 H1102" fill="none" stroke="url(#g13)" stroke-width="4" stroke-linejoin="round"/>
<rect x="985" y="985" width="16" height="16" rx="2.5" fill="#C9961B"/>
<rect x="1094" y="1187" width="17" height="16" rx="2.5" fill="#1a1208"/>
<path d="M116.0,266.8 L117.8,266.3 L119.5,265.3 L121.2,264.8 L122.9,264.0 L124.6,262.5 L126.4,261.6 L129.8,262.2 L133.2,261.1 L136.7,260.7 L140.1,261.2 L143.6,260.2 L147.0,260.3 L152.7,259.8 L158.5,259.9 L164.2,259.3 L169.9,259.8 L175.7,260.0 L181.4,259.5 L187.1,260.0 L192.9,260.1 L198.6,259.6 L204.3,260.6 L210.1,260.6 L215.8,260.4 L221.5,260.3 L227.3,261.3 L233.0,261.0 L238.7,261.4 L244.5,261.7 L250.2,261.7 L252.5,262.4 L254.8,262.3 L257.1,263.3 L259.4,263.4 L261.7,264.4 L258.4,265.6 L265.7,267.1 L260.5,268.6 L260.5,269.0 L272.6,270.5 L267.4,272.1 L261.1,272.4 L267.4,274.0 L262.2,275.5 L261.5,275.9 L270.8,277.4 L265.7,278.9 L259.3,279.3 L269.1,280.8 L264.0,282.3 L261.4,282.7 L276.0,284.2 L270.8,285.7 L260.0,285.7 L274.3,287.3 L269.1,288.8 L262.2,290.0 L260.2,290.3 L258.2,290.6 L256.2,291.3 L254.2,292.4 L252.2,291.9 L250.2,292.7 L245.9,293.4 L241.6,293.8 L237.3,294.1 L233.0,294.0 L228.7,294.6 L224.4,294.9 L218.7,294.4 L212.9,295.0 L207.2,295.0 L201.5,295.4 L195.7,294.6 L190.0,294.4 L184.3,294.7 L178.5,294.8 L172.8,294.5 L167.1,294.2 L161.3,293.7 L155.6,294.6 L150.4,293.3 L145.3,293.5 L140.1,293.2 L135.0,292.7 L129.8,293.0 L124.6,292.9 L122.9,292.0 L121.2,291.8 L119.5,291.3 L117.8,291.3 L116.0,290.1 L120.0,288.4 L110.9,286.9 L116.0,285.4 L122.2,285.0 L112.6,283.5 L117.8,281.9 L124.4,281.6 L107.4,280.0 L112.6,278.5 L124.5,278.1 L105.7,276.6 L110.9,275.1 L121.0,274.7 L104.0,273.2 L109.2,271.7 L120.8,271.3 L109.2,269.8 L114.3,268.3Z" fill="#575757"/>
<text x="188.5" y="285" text-anchor="middle" font-family="Liberation Serif" font-style="italic" font-weight="bold" font-size="31" fill="#fff" textLength="48" lengthAdjust="spacingAndGlyphs">PAS</text>
<path d="M784.4,266.0 L786.3,264.9 L788.2,264.3 L790.1,263.1 L792.0,262.0 L793.9,261.5 L795.8,261.3 L799.6,260.7 L803.5,260.2 L807.3,259.1 L811.1,259.1 L814.9,258.3 L818.8,257.7 L825.1,257.6 L831.5,257.6 L837.9,258.5 L844.2,258.3 L850.6,258.2 L857.0,258.1 L863.3,257.5 L869.7,257.9 L876.0,258.5 L882.4,258.9 L888.8,259.3 L895.1,259.5 L901.5,258.6 L907.9,259.4 L914.2,259.7 L920.6,259.6 L927.0,259.3 L933.4,259.8 L935.9,259.9 L938.4,261.6 L941.0,262.1 L943.5,262.2 L946.1,262.5 L944.4,264.6 L962.0,266.3 L956.3,268.0 L943.5,268.5 L954.4,270.2 L948.6,271.9 L941.9,272.3 L952.5,274.1 L946.7,275.8 L942.7,276.2 L956.3,277.9 L950.5,279.6 L945.6,280.1 L950.5,281.8 L944.8,283.5 L941.2,283.9 L958.2,285.7 L952.5,287.4 L941.3,287.4 L960.1,289.1 L954.4,290.8 L946.7,292.3 L944.5,292.4 L942.3,293.3 L940.0,293.8 L937.8,294.2 L935.6,295.6 L933.4,295.2 L928.6,295.8 L923.8,295.9 L919.0,296.8 L914.2,296.7 L909.5,297.2 L904.7,298.0 L898.3,297.5 L892.0,297.8 L885.6,298.2 L879.2,297.2 L872.9,297.1 L866.5,297.4 L860.1,297.9 L853.8,297.6 L847.4,296.9 L841.0,296.9 L834.7,296.6 L828.3,296.8 L822.6,296.0 L816.8,296.5 L811.1,296.5 L805.4,296.3 L799.6,295.7 L793.9,295.7 L792.0,294.0 L790.1,293.9 L788.2,294.2 L786.3,293.5 L784.4,292.5 L793.3,290.4 L776.7,288.7 L782.5,287.0 L789.9,286.5 L778.6,284.8 L784.4,283.1 L789.6,282.7 L780.5,280.9 L786.3,279.2 L791.6,278.8 L772.9,277.1 L778.6,275.4 L789.1,274.9 L771.0,273.2 L776.7,271.5 L791.5,271.1 L774.8,269.3 L780.5,267.6Z" fill="#575757"/>
<text x="870.5" y="285" text-anchor="middle" font-family="Liberation Serif" font-style="italic" font-weight="bold" font-size="33" fill="#fff" textLength="101" lengthAdjust="spacingAndGlyphs">Battery</text>
<path d="M137.4,734.7 L139.3,734.0 L141.2,733.2 L143.1,732.5 L145.0,731.4 L146.9,730.8 L148.8,728.8 L152.7,729.0 L156.5,729.1 L160.3,728.4 L164.1,728.3 L167.9,726.9 L171.8,727.0 L178.1,726.6 L184.5,726.9 L190.8,726.9 L197.2,726.1 L203.6,726.3 L209.9,726.3 L216.3,727.3 L222.7,727.3 L229.1,726.8 L235.4,727.8 L241.8,727.2 L248.2,727.9 L254.5,727.5 L260.9,727.5 L267.2,728.6 L273.6,728.0 L280.0,728.1 L286.4,729.2 L288.9,729.6 L291.4,729.4 L294.0,730.8 L296.5,730.8 L299.1,731.5 L296.1,733.0 L313.1,734.6 L307.4,736.2 L294.9,736.6 L315.0,738.2 L309.3,739.8 L294.8,740.2 L311.2,741.8 L305.4,743.4 L294.4,743.8 L305.4,745.4 L299.7,747.0 L295.7,747.4 L307.4,749.0 L301.6,750.6 L297.4,751.0 L303.5,752.6 L297.8,754.2 L294.0,754.2 L309.3,755.8 L303.5,757.4 L299.7,758.8 L297.5,758.9 L295.3,759.4 L293.0,760.6 L290.8,760.7 L288.6,761.0 L286.4,761.8 L281.6,762.4 L276.8,761.9 L272.0,763.4 L267.2,762.6 L262.5,763.8 L257.7,764.2 L251.3,763.2 L245.0,764.1 L238.6,763.6 L232.2,763.9 L225.9,763.2 L219.5,763.3 L213.1,763.3 L206.8,764.1 L200.4,763.0 L194.0,763.6 L187.7,763.6 L181.3,763.5 L175.6,762.5 L169.8,762.3 L164.1,762.2 L158.4,762.3 L152.7,761.2 L146.9,761.7 L145.0,761.3 L143.1,760.9 L141.2,759.4 L139.3,760.1 L137.4,758.6 L142.8,757.0 L133.6,755.4 L139.3,753.8 L145.2,753.4 L129.7,751.8 L135.5,750.2 L141.7,749.8 L124.0,748.2 L129.7,746.6 L145.1,746.2 L131.6,744.6 L137.4,743.0 L142.9,742.6 L127.8,741.0 L133.6,739.4 L145.8,739.0 L125.9,737.4 L131.6,735.8Z" fill="#575757"/>
<text x="219" y="754.5" text-anchor="middle" font-family="Liberation Serif" font-style="italic" font-weight="bold" font-size="32" fill="#fff" textLength="129" lengthAdjust="spacingAndGlyphs">Controller</text>
<path d="M1132.3,729.7 L1134.5,728.7 L1136.7,727.2 L1138.9,725.9 L1141.1,724.5 L1143.3,724.4 L1145.5,723.1 L1149.8,723.1 L1154.2,722.1 L1158.6,722.1 L1163.0,721.0 L1167.4,721.2 L1171.8,720.7 L1179.0,720.2 L1186.3,720.2 L1193.7,720.4 L1201.0,719.6 L1208.2,720.0 L1215.5,720.3 L1222.8,719.8 L1230.2,720.8 L1237.5,720.8 L1244.8,721.3 L1252.0,720.8 L1259.3,720.7 L1266.7,721.9 L1274.0,722.0 L1281.2,721.7 L1288.5,721.3 L1295.8,721.6 L1303.2,722.4 L1306.1,722.6 L1309.0,724.1 L1311.9,724.2 L1314.8,724.3 L1317.8,725.6 L1313.5,727.4 L1327.2,729.3 L1320.7,731.2 L1314.7,731.6 L1331.6,733.5 L1325.0,735.4 L1314.3,735.9 L1322.9,737.7 L1316.3,739.6 L1312.7,740.1 L1336.0,742.0 L1329.4,743.9 L1315.2,744.3 L1329.4,746.2 L1322.9,748.1 L1316.4,748.5 L1325.0,750.4 L1318.5,752.3 L1313.2,752.3 L1333.8,754.2 L1327.2,756.1 L1318.5,757.6 L1315.9,757.8 L1313.4,759.0 L1310.8,759.2 L1308.3,759.6 L1305.7,760.8 L1303.2,761.7 L1297.7,762.2 L1292.2,762.1 L1286.7,762.0 L1281.2,762.3 L1275.8,763.4 L1270.3,763.7 L1263.0,763.8 L1255.7,763.8 L1248.4,763.4 L1241.1,763.6 L1233.8,763.3 L1226.5,763.8 L1219.2,763.4 L1211.9,762.8 L1204.6,763.3 L1197.3,763.7 L1190.0,762.2 L1182.7,762.6 L1176.1,762.8 L1169.6,761.4 L1163.0,761.9 L1156.4,761.9 L1149.8,761.0 L1143.3,761.2 L1141.1,760.1 L1138.9,759.1 L1136.7,759.0 L1134.5,758.3 L1132.3,758.5 L1141.5,755.6 L1125.8,753.7 L1132.3,751.8 L1143.1,751.4 L1128.0,749.5 L1134.5,747.6 L1136.8,747.1 L1121.4,745.3 L1128.0,743.4 L1140.2,742.9 L1119.2,741.0 L1125.8,739.1 L1138.4,738.7 L1123.6,736.8 L1130.1,734.9 L1142.0,734.5 L1117.0,732.6 L1123.6,730.7Z" fill="#575757"/>
<text x="1229" y="752" text-anchor="middle" font-family="Liberation Serif" font-style="italic" font-weight="bold" font-size="32" fill="#fff" textLength="91" lengthAdjust="spacingAndGlyphs">Brakes</text>
<path d="M1133.2,999.0 L1135.4,997.8 L1137.5,997.5 L1139.7,995.6 L1141.9,995.3 L1144.0,994.0 L1146.2,992.5 L1150.5,992.7 L1154.9,991.6 L1159.2,991.7 L1163.6,990.7 L1167.9,990.2 L1172.2,990.2 L1179.5,990.7 L1186.7,989.7 L1194.0,989.7 L1201.2,990.2 L1208.4,990.6 L1215.7,990.0 L1222.9,990.0 L1230.1,991.0 L1237.3,989.9 L1244.6,991.3 L1251.8,990.8 L1259.0,990.8 L1266.3,990.9 L1273.5,991.3 L1280.8,992.2 L1288.0,991.5 L1295.2,992.2 L1302.5,992.4 L1305.3,992.7 L1308.2,993.6 L1311.1,993.5 L1314.0,994.1 L1316.9,994.9 L1313.5,997.4 L1335.0,999.3 L1328.5,1001.2 L1312.7,1001.6 L1322.0,1003.5 L1315.5,1005.4 L1312.3,1005.9 L1328.5,1007.7 L1322.0,1009.6 L1316.2,1010.1 L1332.8,1012.0 L1326.3,1013.9 L1311.7,1014.3 L1324.2,1016.2 L1317.6,1018.1 L1313.1,1018.5 L1330.7,1020.4 L1324.2,1022.3 L1314.4,1022.3 L1326.3,1024.2 L1319.8,1026.1 L1317.6,1027.3 L1315.1,1028.0 L1312.6,1028.9 L1310.0,1028.8 L1307.5,1030.0 L1305.0,1030.1 L1302.5,1031.0 L1297.0,1032.2 L1291.6,1031.9 L1286.2,1033.1 L1280.8,1032.2 L1275.3,1033.3 L1269.9,1034.0 L1262.7,1034.0 L1255.4,1033.4 L1248.2,1033.4 L1241.0,1033.6 L1233.7,1034.0 L1226.5,1033.0 L1219.3,1032.9 L1212.0,1033.0 L1204.8,1033.4 L1197.6,1032.3 L1190.3,1033.1 L1183.1,1032.4 L1176.6,1032.4 L1170.1,1032.3 L1163.6,1031.6 L1157.1,1031.7 L1150.5,1031.6 L1144.0,1030.6 L1141.9,1030.8 L1139.7,1029.5 L1137.5,1029.3 L1135.4,1028.6 L1133.2,1027.6 L1143.5,1025.6 L1118.0,1023.7 L1124.5,1021.8 L1140.8,1021.4 L1126.7,1019.5 L1133.2,1017.6 L1138.6,1017.1 L1128.8,1015.3 L1135.4,1013.4 L1140.1,1012.9 L1122.3,1011.0 L1128.8,1009.1 L1139.3,1008.7 L1124.5,1006.8 L1131.0,1004.9 L1138.4,1004.5 L1120.2,1002.6 L1126.7,1000.7Z" fill="#575757"/>
<text x="1226.5" y="1024" text-anchor="middle" font-family="Liberation Serif" font-style="italic" font-weight="bold" font-size="31" fill="#fff" textLength="105" lengthAdjust="spacingAndGlyphs">Throttle</text>
<path d="M1133.2,1310.1 L1135.4,1310.1 L1137.5,1307.9 L1139.7,1307.7 L1141.9,1305.8 L1144.0,1305.0 L1146.2,1305.0 L1150.5,1303.4 L1154.9,1303.5 L1159.2,1302.8 L1163.6,1302.3 L1167.9,1301.9 L1172.2,1301.0 L1179.5,1301.8 L1186.7,1300.6 L1194.0,1300.8 L1201.2,1300.4 L1208.4,1300.7 L1215.7,1300.8 L1222.9,1301.7 L1230.1,1301.2 L1237.3,1301.1 L1244.6,1301.5 L1251.8,1302.8 L1259.0,1301.7 L1266.3,1302.7 L1273.5,1302.5 L1280.8,1303.1 L1288.0,1302.8 L1295.2,1303.4 L1302.5,1303.3 L1305.3,1304.2 L1308.2,1305.2 L1311.1,1305.4 L1314.0,1305.4 L1316.9,1305.9 L1315.9,1308.6 L1322.0,1310.5 L1315.5,1312.4 L1316.9,1312.9 L1326.3,1314.8 L1319.8,1316.8 L1313.0,1317.2 L1332.8,1319.2 L1326.3,1321.1 L1313.5,1321.6 L1330.7,1323.5 L1324.2,1325.4 L1316.8,1325.9 L1328.5,1327.8 L1322.0,1329.7 L1312.0,1330.2 L1324.2,1332.1 L1317.6,1334.0 L1316.1,1334.0 L1335.0,1336.0 L1328.5,1337.9 L1317.6,1338.7 L1315.1,1340.2 L1312.6,1340.9 L1310.0,1341.9 L1307.5,1342.4 L1305.0,1342.5 L1302.5,1342.7 L1297.0,1343.1 L1291.6,1344.0 L1286.2,1344.4 L1280.8,1344.1 L1275.3,1345.7 L1269.9,1345.6 L1262.7,1345.8 L1255.4,1345.2 L1248.2,1345.2 L1241.0,1344.9 L1233.7,1345.3 L1226.5,1345.2 L1219.3,1345.3 L1212.0,1345.1 L1204.8,1345.6 L1197.6,1345.5 L1190.3,1344.3 L1183.1,1344.5 L1176.6,1343.8 L1170.1,1344.2 L1163.6,1344.3 L1157.1,1342.9 L1150.5,1343.4 L1144.0,1342.4 L1141.9,1341.4 L1139.7,1341.9 L1137.5,1340.8 L1135.4,1340.0 L1133.2,1339.8 L1140.2,1337.4 L1118.0,1335.5 L1124.5,1333.6 L1138.1,1333.1 L1122.3,1331.2 L1128.8,1329.2 L1138.0,1328.8 L1120.2,1326.8 L1126.7,1324.9 L1142.2,1324.4 L1128.8,1322.5 L1135.4,1320.6 L1137.8,1320.1 L1126.7,1318.2 L1133.2,1316.3 L1141.8,1315.8 L1124.5,1313.9 L1131.0,1312.0Z" fill="#575757"/>
<text x="1229" y="1332" text-anchor="middle" font-family="Liberation Serif" font-style="italic" font-weight="bold" font-size="32" fill="#fff" textLength="101" lengthAdjust="spacingAndGlyphs">Display</text>
<path d="M131.2,1312.3 L133.2,1311.2 L135.3,1310.0 L137.3,1310.0 L139.3,1308.0 L141.4,1307.7 L143.4,1307.2 L147.4,1305.8 L151.5,1305.9 L155.6,1305.6 L159.6,1304.4 L163.7,1304.4 L167.8,1304.4 L174.5,1304.0 L181.3,1304.3 L188.1,1303.5 L194.8,1303.5 L201.6,1303.3 L208.4,1303.7 L215.1,1304.5 L221.9,1304.3 L228.7,1304.7 L235.4,1304.4 L242.2,1305.1 L249.0,1304.5 L255.7,1304.9 L262.5,1305.5 L269.2,1305.7 L276.0,1305.5 L282.8,1305.2 L289.5,1305.6 L292.3,1306.1 L295.0,1306.7 L297.7,1308.0 L300.4,1307.8 L303.1,1309.2 L299.1,1310.6 L313.9,1312.3 L307.8,1314.0 L302.2,1314.5 L318.0,1316.2 L311.9,1317.9 L302.9,1318.3 L311.9,1320.1 L305.8,1321.8 L303.5,1322.2 L315.9,1323.9 L309.9,1325.7 L297.7,1326.1 L307.8,1327.8 L301.7,1329.5 L302.3,1330.0 L320.0,1331.7 L313.9,1333.4 L298.9,1333.4 L309.9,1335.1 L303.8,1336.8 L303.8,1338.6 L301.4,1338.5 L299.0,1339.8 L296.7,1339.4 L294.3,1341.0 L291.9,1341.0 L289.5,1341.7 L284.5,1342.0 L279.4,1341.9 L274.3,1342.1 L269.2,1342.6 L264.2,1343.7 L259.1,1344.0 L252.3,1343.3 L245.6,1344.3 L238.8,1344.0 L232.0,1343.1 L225.3,1343.4 L218.5,1343.9 L211.7,1344.0 L205.0,1343.7 L198.2,1343.6 L191.4,1343.2 L184.7,1342.4 L177.9,1343.3 L171.8,1342.4 L165.7,1342.8 L159.6,1341.6 L153.5,1341.7 L147.4,1341.7 L141.4,1341.6 L139.3,1340.7 L137.3,1340.2 L135.3,1339.9 L133.2,1339.6 L131.2,1338.1 L136.5,1336.4 L125.1,1334.7 L131.2,1333.0 L141.0,1332.5 L123.1,1330.8 L129.2,1329.1 L139.8,1328.7 L117.0,1326.9 L123.1,1325.2 L137.6,1324.8 L127.2,1323.1 L133.2,1321.3 L139.0,1320.9 L119.0,1319.2 L125.1,1317.5 L135.3,1317.0 L121.1,1315.3 L127.2,1313.6Z" fill="#575757"/>
<text x="218.5" y="1334.5" text-anchor="middle" font-family="Liberation Serif" font-style="italic" font-weight="bold" font-size="33" fill="#fff" textLength="143" lengthAdjust="spacingAndGlyphs">Motor Rim</text>
<path d="M601.2,1311.4 L603.4,1310.2 L605.5,1309.4 L607.7,1307.8 L609.9,1307.6 L612.0,1306.6 L614.2,1305.4 L618.5,1304.2 L622.9,1304.3 L627.2,1303.5 L631.6,1302.9 L635.9,1303.5 L640.2,1303.1 L647.5,1301.6 L654.7,1302.7 L662.0,1302.3 L669.2,1301.9 L676.4,1301.7 L683.6,1302.1 L690.9,1302.1 L698.1,1302.6 L705.4,1302.8 L712.6,1302.3 L719.8,1303.4 L727.0,1304.0 L734.3,1304.1 L741.5,1303.8 L748.8,1303.1 L756.0,1303.2 L763.2,1303.6 L770.5,1304.9 L773.3,1304.6 L776.2,1305.3 L779.1,1306.7 L782.0,1306.5 L784.9,1307.4 L784.6,1309.4 L796.5,1311.3 L790.0,1313.2 L785.4,1313.6 L798.7,1315.5 L792.1,1317.4 L780.7,1317.9 L794.3,1319.7 L787.8,1321.6 L779.3,1322.1 L800.8,1324.0 L794.3,1325.8 L781.1,1326.3 L803.0,1328.2 L796.5,1330.1 L783.1,1330.5 L790.0,1332.4 L783.5,1334.3 L779.6,1334.3 L792.1,1336.2 L785.6,1338.1 L785.6,1340.1 L783.1,1339.5 L780.6,1340.6 L778.0,1342.0 L775.5,1342.6 L773.0,1342.1 L770.5,1343.9 L765.0,1344.0 L759.6,1343.9 L754.2,1345.1 L748.8,1344.4 L743.3,1345.0 L737.9,1346.3 L730.7,1345.5 L723.4,1345.8 L716.2,1345.1 L709.0,1345.6 L701.7,1346.1 L694.5,1345.3 L687.3,1345.2 L680.0,1345.5 L672.8,1345.7 L665.6,1344.5 L658.3,1344.3 L651.1,1345.0 L644.6,1344.1 L638.1,1343.6 L631.6,1343.8 L625.1,1342.8 L618.5,1343.6 L612.0,1342.4 L609.9,1341.9 L607.7,1341.5 L605.5,1340.6 L603.4,1341.2 L601.2,1340.0 L609.4,1337.6 L586.0,1335.7 L592.5,1333.8 L605.9,1333.4 L594.7,1331.5 L601.2,1329.6 L608.7,1329.1 L596.9,1327.3 L603.4,1325.4 L608.5,1324.9 L588.2,1323.0 L594.7,1321.2 L608.1,1320.7 L590.3,1318.8 L596.9,1316.9 L608.3,1316.5 L592.5,1314.6 L599.0,1312.7Z" fill="#575757"/>
<text x="694.5" y="1335" text-anchor="middle" font-family="Liberation Serif" font-style="italic" font-weight="bold" font-size="31" fill="#fff" textLength="145" lengthAdjust="spacingAndGlyphs">1 to 4 Cable</text>
<text x="722" y="415" font-family="Liberation Serif" font-style="italic" font-weight="bold" font-size="70" fill="#000" textLength="659" lengthAdjust="spacingAndGlyphs">Enhanced Connectors</text>
<text x="724" y="461" font-family="Liberation Sans" font-size="31" fill="#111" stroke="#111" stroke-width="0.5" textLength="654" lengthAdjust="spacingAndGlyphs">Improved Protection from Water Damage</text>
<text x="724" y="510" font-family="Liberation Sans" font-size="31" fill="#111" stroke="#111" stroke-width="0.5" textLength="337" lengthAdjust="spacingAndGlyphs">and Physical Damage</text>
<text x="92" y="1402" font-family="Liberation Sans" font-weight="bold" font-size="20" fill="#111" textLength="1030" lengthAdjust="spacingAndGlyphs">*The specific parts may vary depending on the product you purchased. This is a general wiring diagram.</text>
<path fill="#000" d="M1070,137 H1193 Q1207,137 1207,151 V178 Q1207,192 1193,192 H1143 V159 H1152 V182 H1190 Q1197,182 1197,175 V154 Q1197,147 1190,147 H1107 V192 H1097 V147 H1070 Z"/>
<path fill="#000" d="M1215,137 H1266 Q1280,137 1280,151 V156 Q1280,170 1266,170 H1238 L1280,189 V192 H1258 L1215,174 V159 H1262 Q1270,159 1270,154 V152 Q1270,147 1262,147 H1215 Z"/>
</svg>
</body></html>
